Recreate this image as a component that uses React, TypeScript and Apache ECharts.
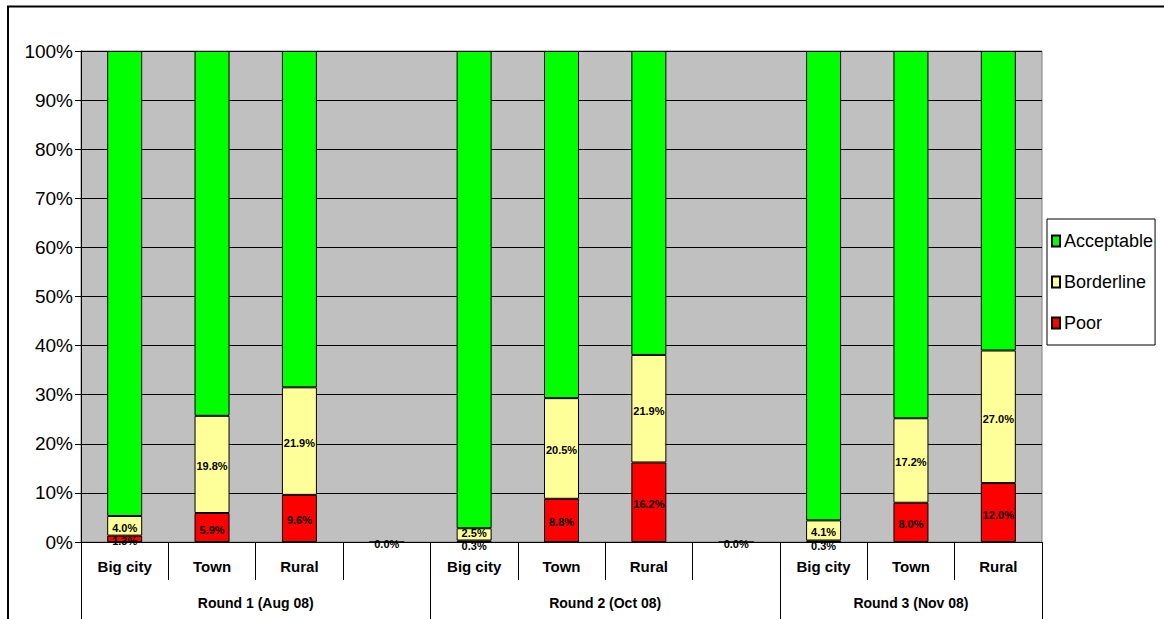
import React, { useEffect, useRef } from "react";
import * as echarts from "echarts";

// Stacked shares (%) per area type, three survey rounds; empty slots separate the rounds.
const categories = ["Big city", "Town", "Rural", "", "Big city", "Town", "Rural", "", "Big city", "Town", "Rural"];
const poor = [1.3, 5.9, 9.6, 0, 0.3, 8.8, 16.2, 0, 0.3, 8.0, 12.0];
const borderline = [4.0, 19.8, 21.9, null, 2.5, 20.5, 21.9, null, 4.1, 17.2, 27.0];
const acceptable = [94.7, 74.3, 68.5, null, 97.2, 70.7, 61.9, null, 95.6, 74.8, 61.0];

const groupNames = ["Round 1 (Aug 08)", "Round 2 (Oct 08)", "Round 3 (Nov 08)"];
const groupSizes = [4, 4, 3];

const yTicks = [0, 10, 20, 30, 40, 50, 60, 70, 80, 90, 100];

const FONT = "'Liberation Sans', Arial, sans-serif";

export default function App() {
  const ref = useRef<HTMLDivElement>(null);

  useEffect(() => {
    if (!ref.current) return;
    const chart = echarts.init(ref.current, undefined, { renderer: "svg" });

    // group start indices and centres on the category scale
    const groupStarts: number[] = [];
    const groupCenters: number[] = [];
    let acc = 0;
    groupSizes.forEach((s) => {
      groupStarts.push(acc);
      groupCenters.push(acc + s / 2);
      acc += s;
    });

    const labelStyle = {
      show: true,
      position: "inside" as const,
      color: "#000",
      fontFamily: FONT,
      fontWeight: "bold" as const,
      fontSize: 11,
      offset: [0, 2],
      formatter: (p: any) => (p.value == null ? "" : Number(p.value).toFixed(1) + "%"),
    };

    // very thin segments get their labels nudged apart so they stay legible
    const poorData = poor.map((v) =>
      v > 0 && v < 1 ? { value: v, label: { offset: [0, 5] } } : v
    );
    const borderlineData = borderline.map((v) =>
      v != null && v < 3 ? { value: v, label: { offset: [0, -1] } } : v
    );

    const barBase = {
      type: "bar" as const,
      stack: "total",
      barWidth: 35,
      xAxisIndex: 0,
      yAxisIndex: 0,
    };

    chart.setOption({
      animation: false,
      backgroundColor: "#fff",
      textStyle: { fontFamily: FONT },
      graphic: [
        {
          type: "rect",
          silent: true,
          z: -10,
          shape: { x: 8, y: 6.5, width: 1400, height: 800 },
          style: { fill: "none", stroke: "#000", lineWidth: 2 },
        },
      ],
      grid: {
        left: 81,
        right: 122,
        top: 51,
        bottom: 77,
        show: true,
        backgroundColor: "#C0C0C0",
        borderColor: "#808080",
        borderWidth: 1,
      },
      legend: {
        orient: "vertical",
        left: 1047,
        top: 219,
        data: ["Acceptable", "Borderline", "Poor"],
        itemWidth: 8,
        itemHeight: 11,
        itemGap: 23,
        padding: [13, 2, 13, 4],
        borderColor: "#000",
        borderWidth: 1,
        backgroundColor: "#fff",
        icon: "rect",
        textStyle: { fontFamily: FONT, fontSize: 18, color: "#000", padding: [0, 0, 0, -1] },
      },
      xAxis: [
        {
          type: "category",
          data: categories,
          position: "bottom",
          axisLine: { show: true, lineStyle: { color: "#000", width: 1 } },
          axisTick: { show: true, interval: 0, length: 38, lineStyle: { color: "#000" } },
          axisLabel: {
            interval: 0,
            margin: 17,
            color: "#000",
            fontFamily: FONT,
            fontWeight: "bold",
            fontSize: 15,
          },
          splitLine: { show: false },
        },
        {
          type: "category",
          data: categories,
          position: "bottom",
          axisLine: { show: false },
          axisTick: {
            show: true,
            length: 80,
            interval: (i: number) => groupStarts.includes(i),
            lineStyle: { color: "#000" },
          },
          axisLabel: { show: false },
          splitLine: { show: false },
        },
        {
          type: "value",
          min: 0,
          max: categories.length,
          interval: 0.5,
          position: "bottom",
          axisLine: { show: false },
          axisTick: { show: false },
          splitLine: { show: false },
          axisLabel: {
            margin: 54,
            color: "#000",
            fontFamily: FONT,
            fontWeight: "bold",
            fontSize: 14,
            formatter: (v: number) => {
              const i = groupCenters.indexOf(v);
              return i >= 0 ? groupNames[i] : "";
            },
          },
        },
      ],
      yAxis: {
        type: "value",
        min: yTicks[0],
        max: yTicks[yTicks.length - 1],
        interval: 10,
        axisLine: { show: true, lineStyle: { color: "#000" } },
        axisTick: { show: true, length: 6, inside: false, lineStyle: { color: "#000" } },
        axisLabel: {
          margin: 8,
          color: "#000",
          fontFamily: FONT,
          fontSize: 19,
          formatter: "{value}%",
        },
        splitLine: { show: true, lineStyle: { color: "#000", width: 1 } },
      },
      series: [
        {
          ...barBase,
          name: "Poor",
          data: poorData,
          itemStyle: { color: "#FF0000", borderColor: "#000", borderWidth: 1 },
          label: labelStyle,
        },
        {
          ...barBase,
          name: "Borderline",
          data: borderlineData,
          itemStyle: { color: "#FFFF99", borderColor: "#000", borderWidth: 1 },
          label: labelStyle,
        },
        {
          ...barBase,
          name: "Acceptable",
          data: acceptable,
          itemStyle: { color: "#00FF00", borderColor: "#000", borderWidth: 1 },
          label: { show: false },
        },
      ],
    });

    return () => chart.dispose();
  }, []);

  return (
    <div
      ref={ref}
      style={{ position: "absolute", left: 0, top: 0, width: 1164, height: 619 }}
    />
  );
}
